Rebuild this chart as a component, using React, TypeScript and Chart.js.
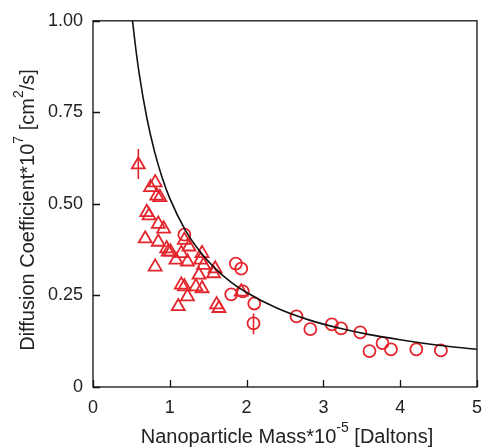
import React, { useEffect, useRef } from 'react';
import { Chart, registerables } from 'chart.js';

Chart.register(...registerables);

// Triangles (open, red)
const triangleMass = [0.59, 0.81, 0.75, 0.83, 0.87, 0.70, 0.73, 0.85, 0.92, 0.68, 0.85, 0.96, 0.98, 1.08, 0.81, 1.19, 1.25, 1.15, 1.23, 1.42, 1.40, 1.44, 1.38, 1.57, 1.59, 1.15, 1.19, 1.34, 1.42, 1.23, 1.11, 1.61, 1.64, 1.01, 1.93];
const triangleDiff = [0.607, 0.558, 0.545, 0.522, 0.518, 0.477, 0.468, 0.445, 0.432, 0.405, 0.396, 0.378, 0.369, 0.347, 0.328, 0.401, 0.383, 0.365, 0.342, 0.365, 0.347, 0.333, 0.306, 0.310, 0.323, 0.279, 0.274, 0.274, 0.269, 0.247, 0.220, 0.225, 0.215, 0.369, 0.260];

// Circles (open, red)
const circleMass = [1.19, 1.86, 1.93, 1.80, 1.95, 2.10, 2.09, 2.65, 2.83, 3.11, 3.23, 3.48, 3.60, 3.77, 3.88, 4.21, 4.53];
const circleDiff = [0.416, 0.337, 0.323, 0.253, 0.261, 0.228, 0.174, 0.193, 0.158, 0.171, 0.160, 0.149, 0.098, 0.120, 0.103, 0.103, 0.100];

// Error bars
const errorMass = [0.59, 2.09];
const errorLow = [0.568, 0.144];
const errorHigh = [0.650, 0.201];

// Fitted curve
const fitMass = [0.515, 0.55, 0.6, 0.7, 0.8, 0.9, 1.0, 1.2, 1.4, 1.6, 1.8, 2.0, 2.4, 2.8, 3.2, 3.6, 4.0, 4.5, 5.0];
const fitDiff = [1.0, 0.936, 0.858, 0.736, 0.644, 0.572, 0.515, 0.429, 0.368, 0.322, 0.286, 0.258, 0.215, 0.184, 0.161, 0.143, 0.129, 0.114, 0.103];

const xTicks = [0, 1, 2, 3, 4, 5];
const yTicks = [0, 0.25, 0.5, 0.75, 1];
const yTickLabels = ['0', '0.25', '0.50', '0.75', '1.00'];

const RED = '#e3262d';
const FONT = "'Liberation Sans', Arial, sans-serif";

type Part = { t: string; sup?: boolean };

function drawRich(ctx: CanvasRenderingContext2D, parts: Part[], size: number) {
  const supSize = Math.round(size * 0.68);
  let total = 0;
  const widths = parts.map((p) => {
    ctx.font = `${p.sup ? supSize : size}px ${FONT}`;
    const w = ctx.measureText(p.t).width;
    total += w;
    return w;
  });
  let x = -total / 2;
  parts.forEach((p, i) => {
    ctx.font = `${p.sup ? supSize : size}px ${FONT}`;
    ctx.fillText(p.t, x, p.sup ? -size * 0.45 : 0);
    x += widths[i];
  });
}

const framePlugin = {
  id: 'frameTicks',
  afterDraw(chart: any) {
    const { ctx, chartArea, scales } = chart;
    const { left, right, top, bottom } = chartArea;
    ctx.save();
    ctx.strokeStyle = '#111';
    ctx.lineWidth = 1.3;
    ctx.strokeRect(left, top, right - left, bottom - top);
    ctx.beginPath();
    xTicks.forEach((v) => {
      const px = Math.round(scales.x.getPixelForValue(v)) + 0.5;
      ctx.moveTo(px, bottom);
      ctx.lineTo(px, bottom - 7);
    });
    yTicks.forEach((v) => {
      const py = Math.round(scales.y.getPixelForValue(v)) + 0.5;
      ctx.moveTo(left, py);
      ctx.lineTo(left + 7, py);
    });
    ctx.stroke();

    ctx.fillStyle = '#222';
    ctx.textBaseline = 'middle';
    ctx.textAlign = 'left';
    // x title
    ctx.save();
    ctx.translate(287, 437);
    drawRich(ctx, [
      { t: 'Nanoparticle Mass*10' },
      { t: '-5', sup: true },
      { t: ' [Daltons]' },
    ], 20);
    ctx.restore();
    // y title
    ctx.save();
    ctx.translate(28, 210);
    ctx.rotate(-Math.PI / 2);
    drawRich(ctx, [
      { t: 'Diffusion Coefficient*10' },
      { t: '7', sup: true },
      { t: ' [cm' },
      { t: '2', sup: true },
      { t: '/s]' },
    ], 20);
    ctx.restore();
    ctx.restore();
  },
};

export default function App() {
  const ref = useRef<HTMLCanvasElement>(null);
  useEffect(() => {
    if (!ref.current) return;
    const errorSets = errorMass.map((m, i) => ({
      type: 'line' as const,
      data: [
        { x: m, y: errorLow[i] },
        { x: m, y: errorHigh[i] },
      ],
      borderColor: RED,
      borderWidth: 1.6,
      pointRadius: 0,
      showLine: true,
      order: 3,
    }));
    const chart = new Chart(ref.current, {
      type: 'scatter',
      data: {
        datasets: [
          {
            type: 'line',
            data: fitMass.map((m, i) => ({ x: m, y: fitDiff[i] })),
            borderColor: '#111',
            borderWidth: 1.6,
            pointRadius: 0,
            cubicInterpolationMode: 'monotone',
            showLine: true,
            order: 1,
          } as any,
          ...errorSets,
          {
            data: triangleMass.map((m, i) => ({ x: m, y: triangleDiff[i] })),
            pointStyle: 'triangle',
            pointRadius: 7.5,
            borderColor: RED,
            backgroundColor: 'rgba(0,0,0,0)',
            borderWidth: 1.8,
            order: 2,
          },
          {
            data: circleMass.map((m, i) => ({ x: m, y: circleDiff[i] })),
            pointStyle: 'circle',
            pointRadius: 6,
            borderColor: RED,
            backgroundColor: 'rgba(0,0,0,0)',
            borderWidth: 1.8,
            order: 2,
          },
        ],
      },
      options: {
        animation: false,
        responsive: false,
        maintainAspectRatio: false,
        layout: { padding: { left: 0, top: 18, right: 5, bottom: 0 } },
        plugins: { legend: { display: false }, tooltip: { enabled: false } },
        scales: {
          x: {
            type: 'linear',
            min: 0,
            max: 5,
            grid: { display: false, drawTicks: false },
            border: { display: false },
            ticks: {
              stepSize: 1,
              padding: 10,
              color: '#222',
              font: { family: FONT, size: 18 },
              maxRotation: 0,
            },
            afterFit: (s: any) => {
              s.height = 61;
            },
          },
          y: {
            type: 'linear',
            min: 0,
            max: 1,
            grid: { display: false, drawTicks: false },
            border: { display: false },
            ticks: {
              stepSize: 0.25,
              padding: 10,
              color: '#222',
              font: { family: FONT, size: 18 },
              callback: (v: any) => {
                const idx = yTicks.indexOf(Number(v));
                return idx >= 0 ? yTickLabels[idx] : '';
              },
            },
            afterFit: (s: any) => {
              s.width = 93;
            },
          },
        },
      },
      plugins: [framePlugin],
    });
    return () => chart.destroy();
  }, []);
  return (
    <div style={{ position: 'absolute', left: 0, top: 0, width: 492, height: 448, background: '#fff' }}>
      <canvas ref={ref} width={492} height={448} style={{ display: 'block' }} />
    </div>
  );
}
